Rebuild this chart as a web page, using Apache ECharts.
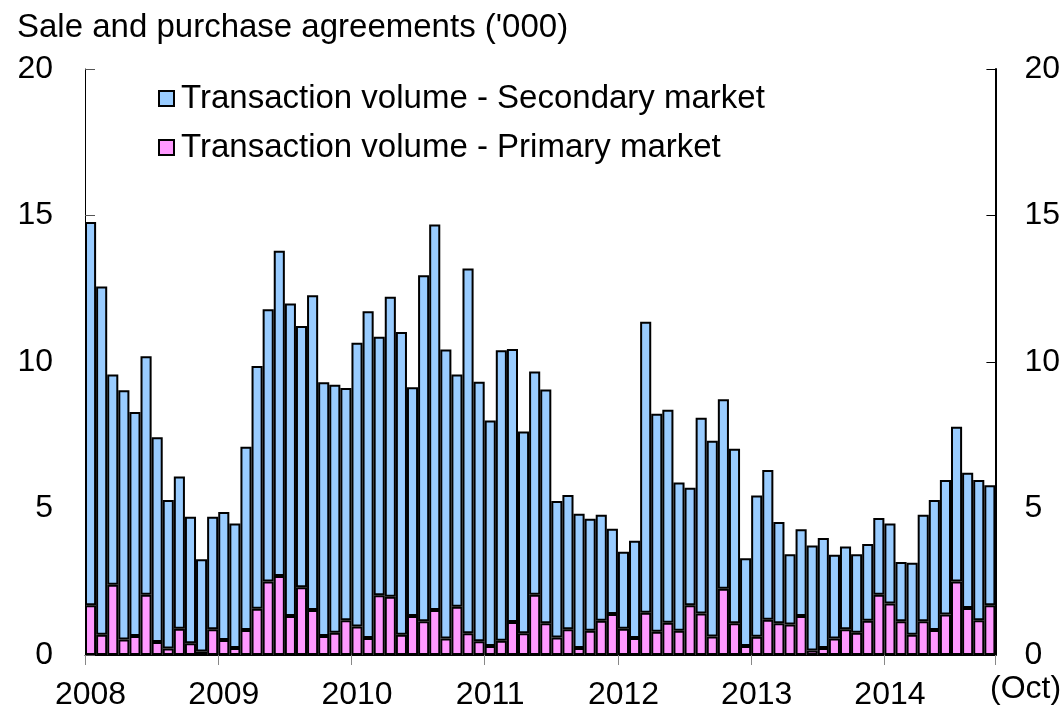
<!DOCTYPE html>
<html>
<head>
<meta charset="utf-8">
<script src="https://cdn.jsdelivr.net/npm/echarts@6/dist/echarts.min.js"></script>
<style>
html,body{margin:0;padding:0;background:#fff;}
#chart{width:1063px;height:711px;}
</style>
</head>
<body>
<div id="chart"></div>
<script>
// Tick labels (years) and months
var years = ['2008','2009','2010','2011','2012','2013','2014'];
var monthsInLastYear = 10; // data ends Oct 2014
var yTicks = [0, 5, 10, 15, 20];

// Transaction volume - Primary market ('000), Jan 2008 - Oct 2014
var primary = [
  1.70,0.69,2.40,0.53,0.65,2.06,0.44,0.22,0.90,0.40,0.12,0.88,
  0.51,0.24,0.85,1.58,2.51,2.70,1.33,2.31,1.54,0.65,0.76,1.19,
  0.97,0.58,2.04,1.99,0.69,1.33,1.15,1.54,0.56,1.65,0.74,0.47,
  0.31,0.49,1.13,0.74,2.06,1.08,0.60,0.88,0.24,0.83,1.17,1.40,
  0.90,0.58,1.44,0.79,1.10,0.83,1.70,1.42,0.63,2.26,1.08,0.31,
  0.62,1.20,1.08,1.04,1.33,0.15,0.24,0.56,0.88,0.76,1.17,2.06,
  1.76,1.15,0.69,1.15,0.85,1.38,2.51,1.60,1.19,1.70
];

// Transaction volume - Secondary market ('000), Jan 2008 - Oct 2014
var secondary = [
  13.08,11.89,7.17,8.51,7.64,8.14,6.99,5.07,5.19,4.32,3.15,3.84,
  4.37,4.25,6.26,8.28,9.29,11.10,10.67,8.92,10.74,8.66,8.46,7.92,
  9.69,11.15,8.82,10.24,10.33,7.81,11.81,13.15,9.87,7.92,12.45,8.86,
  7.69,9.91,9.31,6.89,7.62,7.98,4.66,4.58,4.58,3.82,3.62,2.91,
  2.62,3.32,9.93,7.44,7.27,5.06,4.01,6.68,6.68,6.47,5.96,2.99,
  4.82,5.11,3.46,2.40,2.96,3.59,3.75,2.86,2.82,2.68,2.62,2.62,
  2.73,2.02,2.46,3.64,4.44,4.59,5.28,4.62,4.78,4.09
];

var categories = [];
years.forEach(function (y, yi) {
  var n = (yi === years.length - 1) ? monthsInLastYear : 12;
  for (var m = 1; m <= n; m++) {
    categories.push(y + '-' + (m < 10 ? '0' + m : '' + m));
  }
});

var FONT = 'Liberation Sans, Arial, Helvetica, sans-serif';
var chart = echarts.init(document.getElementById('chart'), null, {renderer: 'canvas'});

function isJan(index) { return index % 12 === 0; }

var option = {
  animation: false,
  backgroundColor: '#fff',
  textStyle: {fontFamily: FONT, color: '#000'},
  title: {
    text: "Sale and purchase agreements ('000)",
    left: 12, top: 6,
    textStyle: {fontFamily: FONT, fontSize: 33, fontWeight: 'normal', color: '#000'}
  },
  legend: {
    orient: 'vertical',
    left: 153, top: 77,
    itemWidth: 15, itemHeight: 15,
    itemGap: 16,
    icon: 'rect',
    data: ['Transaction volume - Secondary market', 'Transaction volume - Primary market'],
    textStyle: {fontFamily: FONT, fontSize: 33, color: '#000', lineHeight: 33, padding: [0,0,0,2]}
  },
  grid: {left: 85, right: 61, top: 69, bottom: 56, containLabel: false},
  xAxis: {
    type: 'category',
    data: categories,
    boundaryGap: true,
    axisLine: {show: true, lineStyle: {color: '#000', width: 1}},
    axisTick: {show: true, interval: function (i) { return isJan(i); }, length: 10, inside: false,
               lineStyle: {color: '#888', width: 1}},
    axisLabel: {interval: function (i) { return isJan(i); },
                formatter: function (v) { return v.slice(0, 4); },
                fontFamily: FONT, fontSize: 32, color: '#000', margin: 24},
    splitLine: {show: false}
  },
  yAxis: [
    {
      type: 'value', position: 'left',
      min: yTicks[0], max: yTicks[yTicks.length - 1], interval: 5,
      axisLine: {show: true, lineStyle: {color: '#000', width: 1}},
      axisTick: {show: true, inside: true, length: 10, lineStyle: {color: '#555', width: 1}},
      axisLabel: {fontFamily: FONT, fontSize: 32, color: '#000', margin: 32},
      splitLine: {show: false}
    },
    {
      type: 'value', position: 'right',
      min: yTicks[0], max: yTicks[yTicks.length - 1], interval: 5,
      axisLine: {show: true, lineStyle: {color: '#000', width: 2}},
      axisTick: {show: true, inside: true, length: 9, lineStyle: {color: '#000', width: 1}},
      axisLabel: {fontFamily: FONT, fontSize: 32, color: '#000', margin: 29},
      splitLine: {show: false}
    }
  ],
  graphic: [
    {type: 'text', left: 990, top: 673,
     style: {text: '(Oct)', font: '32px ' + FONT, fill: '#000'}}
  ],
  series: [
    {
      name: 'Transaction volume - Primary market',
      type: 'bar', stack: 'total',
      data: primary,
      barCategoryGap: '0%',
      itemStyle: {color: '#FF99FF', borderColor: '#000', borderWidth: 2}
    },
    {
      name: 'Transaction volume - Secondary market',
      type: 'bar', stack: 'total',
      data: secondary,
      barCategoryGap: '0%',
      itemStyle: {color: '#99CCFF', borderColor: '#000', borderWidth: 2}
    }
  ]
};
chart.setOption(option);
</script>
</body>
</html>
